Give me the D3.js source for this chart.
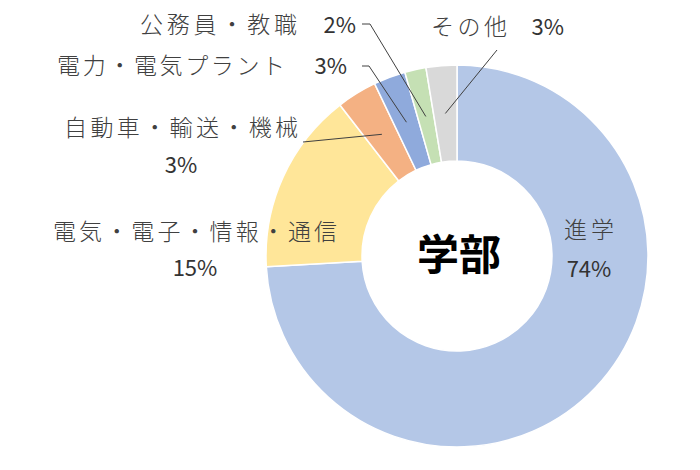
<!DOCTYPE html>
<html>
<head>
<meta charset="utf-8">
<script src="https://cdn.jsdelivr.net/npm/d3@7"></script>
<style>
  body { margin: 0; background: #fff; }
  text { font-family: "Noto Sans CJK JP", "Noto Sans", sans-serif; }
  .name { fill: #404040; font-size: 23px; font-weight: 300; }
  .pct { fill: #333; font-size: 22px; font-weight: 400; }
  .leader { stroke: #404040; stroke-width: 1; fill: none; }
</style>
</head>
<body>
<script>
// data
var categories = ["進学", "電気・電子・情報・通信", "自動車・輸送・機械", "電力・電気プラント", "公務員・教職", "その他"];
var shares = [74.1, 15.4, 3.4, 2.7, 1.8, 2.6];
var colors = ["#B4C7E7", "#FFE699", "#F4B183", "#8FAADC", "#C5E0B4", "#D9D9D9"];
var centerLabel = "学部";

var width = 700, height = 470,
    cx = 457, cy = 256,
    outerR = 191, innerR = 95;

// where each label box sits (layout only)
var labelLayout = [
  { mode: "stack", x: 589, y1: 238, y2: 277, len: 50 },
  { mode: "stack", x: 195, y1: 240, y2: 276, len: 284 },
  { mode: "stack", x: 181, y1: 136, y2: 173, len: 234, leader: [[303, 142]] },
  { mode: "row", nameEnd: 285, pctEnd: 347, y: 74, len: 228, leader: [[362, 66], [369, 66]] },
  { mode: "row", nameEnd: 297, pctEnd: 356, y: 33, len: 157, leader: [[362, 24], [370, 24]] },
  { mode: "row", nameStart: 431, pctEnd: 564, y: 35, len: 76, leader: [[497, 50]] }
];

var data = categories.map(function(c, i) {
  return { name: c, value: shares[i], color: colors[i], layout: labelLayout[i] };
});

var svg = d3.select("body").append("svg")
    .attr("width", width)
    .attr("height", height);

var pie = d3.pie()
    .sort(null)
    .value(function(d) { return d.value; });

var arc = d3.arc()
    .innerRadius(innerR)
    .outerRadius(outerR);

var total = d3.sum(shares);
var fmt = function(v) { return Math.round(v / total * 100) + "%"; };

var g = svg.append("g").attr("transform", "translate(" + cx + "," + cy + ")");

var arcs = pie(data);

g.selectAll("path.slice")
    .data(arcs)
  .enter().append("path")
    .attr("class", "slice")
    .attr("d", arc)
    .attr("fill", function(d) { return d.data.color; })
    .attr("stroke", "#fff")
    .attr("stroke-width", 1.5);

// leader lines to slice centroids
svg.append("g").selectAll("path")
    .data(arcs.filter(function(d) { return d.data.layout.leader; }))
  .enter().append("path")
    .attr("class", "leader")
    .attr("d", function(d) {
      var c = arc.centroid(d);
      var pts = d.data.layout.leader.concat([[cx + c[0], cy + c[1]]]);
      return d3.line()(pts);
    });

var labels = svg.append("g");

arcs.forEach(function(d) {
  var L = d.data.layout;
  if (L.mode === "stack") {
    labels.append("text")
        .attr("class", "name")
        .attr("x", L.x)
        .attr("y", L.y1)
        .attr("text-anchor", "middle")
        .attr("textLength", L.len)
        .attr("lengthAdjust", "spacing")
        .text(d.data.name);
    labels.append("text")
        .attr("class", "pct")
        .attr("x", L.x)
        .attr("y", L.y2)
        .attr("text-anchor", "middle")
        .text(fmt(d.data.value));
  } else {
    var t = labels.append("text")
        .attr("class", "name")
        .attr("y", L.y)
        .attr("textLength", L.len)
        .attr("lengthAdjust", "spacing")
        .text(d.data.name);
    if (L.nameStart !== undefined) t.attr("x", L.nameStart).attr("text-anchor", "start");
    else t.attr("x", L.nameEnd).attr("text-anchor", "end");
    labels.append("text")
        .attr("class", "pct")
        .attr("x", L.pctEnd)
        .attr("y", L.y)
        .attr("text-anchor", "end")
        .text(fmt(d.data.value));
  }
});

svg.append("text")
    .attr("x", cx + 2)
    .attr("y", cy + 14)
    .attr("text-anchor", "middle")
    .style("font-size", "42px")
    .style("font-weight", "bold")
    .style("fill", "#000")
    .text(centerLabel);
</script>
</body>
</html>
